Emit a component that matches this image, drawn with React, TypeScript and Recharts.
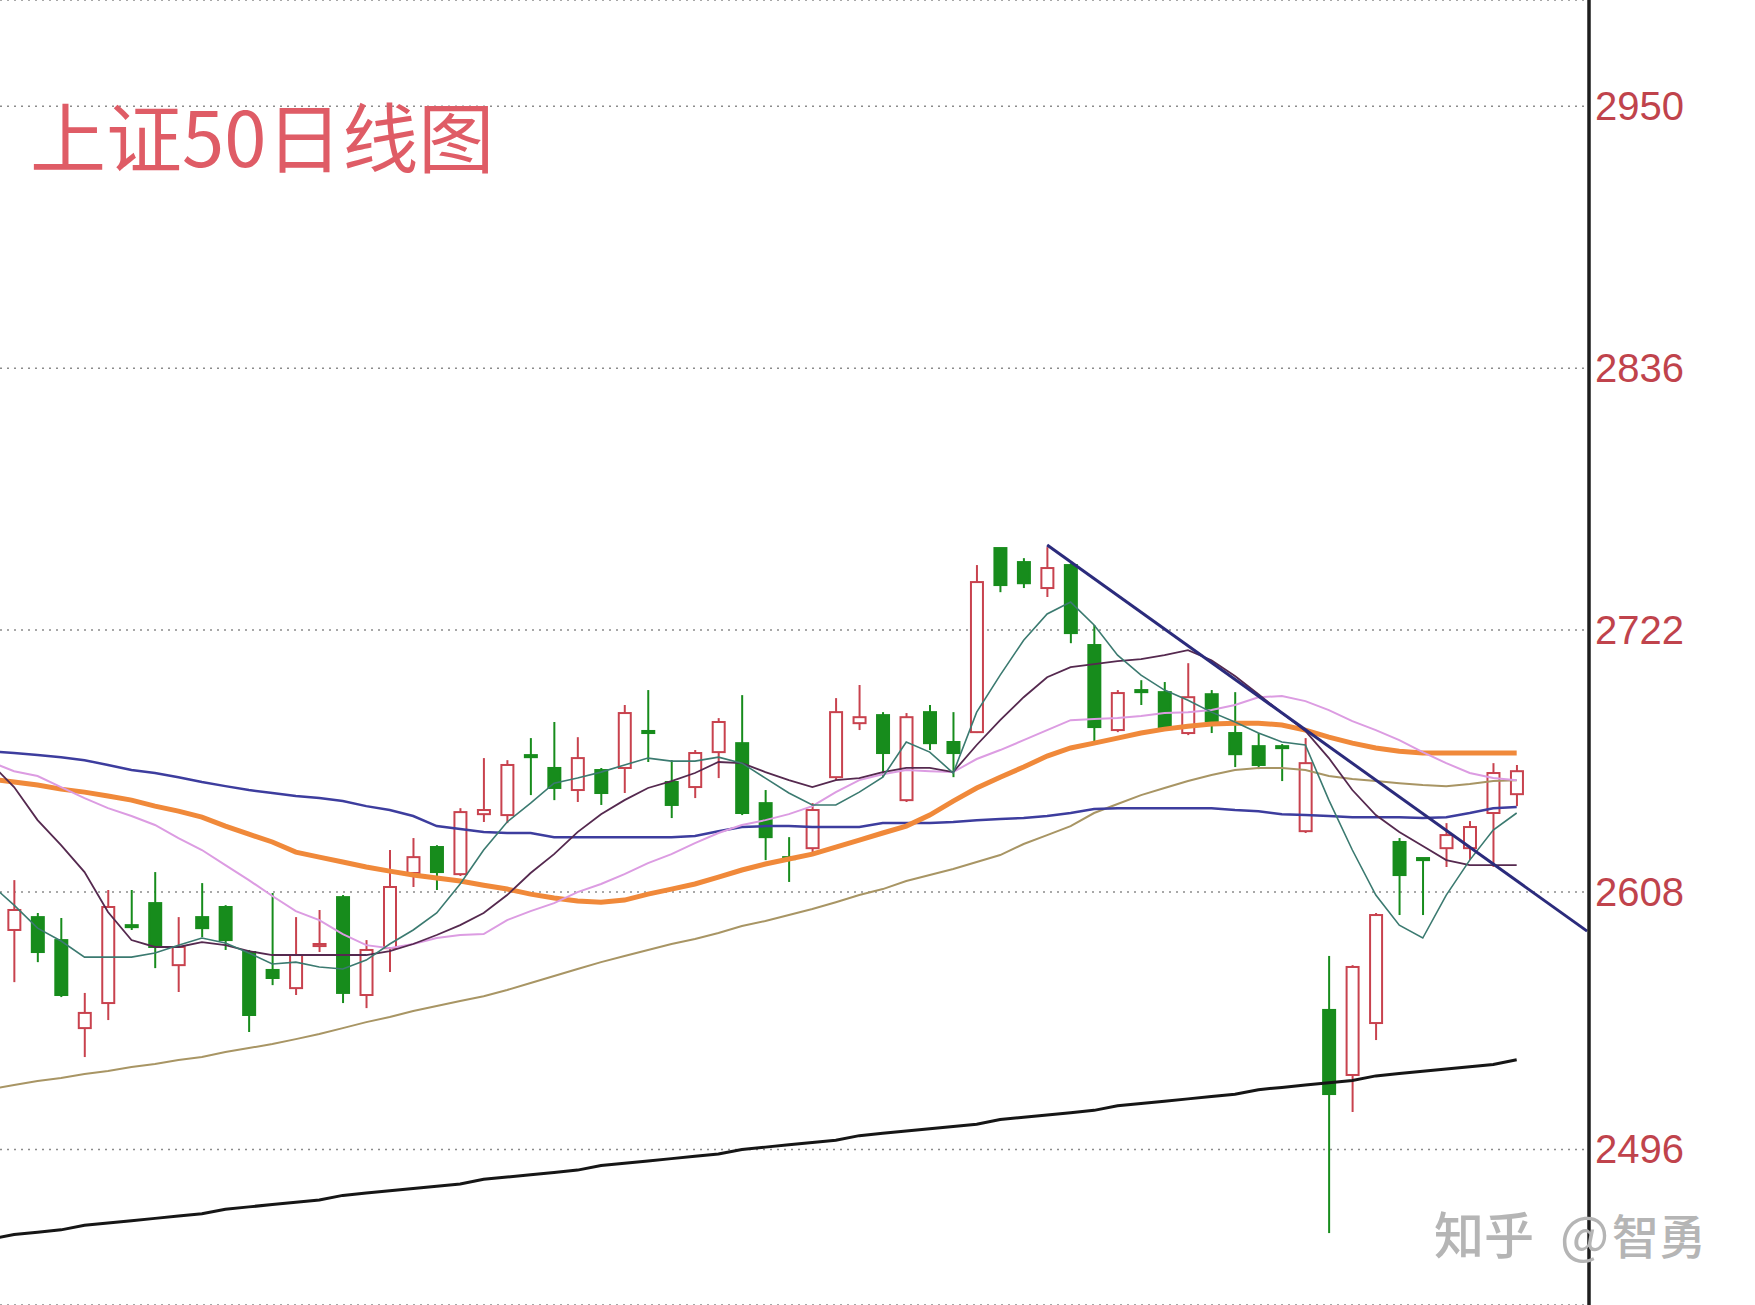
import {
  Bar,
  CartesianGrid,
  ComposedChart,
  Line,
  ReferenceLine,
  XAxis,
  YAxis,
} from "recharts";

// price ticks on the right-hand axis
const PRICE_TICKS = [2496, 2608, 2722, 2836, 2950];

// daily candles (oldest -> newest);
// the first day sits just off the left edge and is mostly clipped
const OPEN = [
  2579.7,
  2591.5, 2597.1, 2587.1, 2548.8, 2559.7, 2593.6, 2603.2, 2576.2, 2597.1, 2601.5,
  2581.9, 2574.1, 2566.2, 2584.5, 2605.8, 2563.2, 2583.6, 2616.3, 2627.6, 2615.8,
  2641.9, 2641.5, 2667.6, 2662.0, 2652.4, 2661.1, 2662.0, 2678.1, 2655.9, 2653.7,
  2668.9, 2672.8, 2646.7, 2623.2, 2627.1, 2658.0, 2681.5, 2685.0, 2648.0, 2686.3,
  2673.3, 2677.6, 2757.7, 2751.6, 2740.3, 2750.3, 2715.5, 2678.5, 2695.9, 2695.0,
  2677.2, 2694.1, 2677.2, 2671.5, 2671.5, 2634.5, 2556.7, 2528.4, 2551.0, 2629.8,
  2622.8, 2627.1, 2627.1, 2642.4, 2650.6,
];
const CLOSE = [
  2607.6,
  2600.2, 2581.9, 2563.2, 2555.4, 2601.5, 2592.8, 2584.1, 2584.1, 2592.3, 2587.1,
  2554.5, 2570.6, 2580.6, 2585.4, 2564.1, 2582.8, 2610.2, 2623.2, 2616.7, 2642.8,
  2643.7, 2663.3, 2666.7, 2653.3, 2666.3, 2651.1, 2685.9, 2677.2, 2645.9, 2668.5,
  2682.0, 2642.4, 2631.9, 2622.4, 2643.7, 2686.3, 2684.1, 2668.5, 2684.1, 2672.8,
  2668.5, 2742.9, 2741.6, 2742.4, 2749.0, 2720.7, 2679.8, 2694.6, 2695.0, 2679.8,
  2692.8, 2682.4, 2668.0, 2663.3, 2670.7, 2664.1, 2520.1, 2575.4, 2598.0, 2615.4,
  2621.9, 2632.8, 2636.3, 2659.8, 2660.6,
];
const HIGH = [
  2612.0,
  2613.2, 2598.9, 2596.7, 2564.1, 2608.9, 2608.9, 2616.7, 2597.1, 2611.9, 2602.3,
  2582.8, 2607.6, 2597.1, 2600.2, 2606.7, 2587.1, 2626.3, 2631.5, 2628.4, 2644.5,
  2666.3, 2665.4, 2675.0, 2682.0, 2675.4, 2662.0, 2689.4, 2695.9, 2665.4, 2669.8,
  2683.7, 2693.7, 2652.4, 2631.9, 2646.7, 2692.4, 2698.1, 2686.3, 2685.9, 2689.4,
  2686.3, 2750.3, 2757.7, 2753.3, 2758.1, 2751.1, 2724.2, 2695.9, 2700.2, 2699.4,
  2707.6, 2695.9, 2695.0, 2677.2, 2672.4, 2675.0, 2580.2, 2576.2, 2598.9, 2631.5,
  2622.8, 2638.0, 2638.9, 2664.1, 2663.3,
];
const LOW = [
  2575.0,
  2568.8, 2577.5, 2562.3, 2536.2, 2552.3, 2591.5, 2574.9, 2564.5, 2588.4, 2582.8,
  2547.1, 2567.5, 2563.2, 2581.9, 2559.7, 2557.5, 2573.2, 2610.2, 2608.9, 2615.0,
  2638.5, 2638.0, 2650.2, 2648.0, 2647.2, 2645.9, 2651.1, 2664.6, 2640.2, 2648.9,
  2657.6, 2641.5, 2621.9, 2612.4, 2624.1, 2656.7, 2678.5, 2658.0, 2647.2, 2669.8,
  2658.0, 2677.2, 2738.5, 2740.3, 2736.4, 2716.3, 2673.3, 2677.6, 2689.4, 2678.5,
  2676.3, 2677.2, 2662.4, 2661.5, 2656.3, 2633.7, 2459.6, 2512.3, 2543.6, 2598.0,
  2598.0, 2618.9, 2621.9, 2618.9, 2645.4,
];

// moving averages
const MA5 = [
  2611.5,
  2602.3, 2592.3, 2586.7, 2579.7, 2579.7, 2579.7, 2581.5, 2584.9, 2588.0, 2585.8,
  2581.5, 2576.7, 2577.5, 2575.4, 2574.5, 2578.4, 2585.4, 2591.5, 2598.9, 2611.5,
  2626.3, 2638.5, 2646.7, 2655.4, 2657.6, 2660.2, 2663.3, 2666.3, 2665.0, 2665.0,
  2666.7, 2664.1, 2657.6, 2651.1, 2645.9, 2645.9, 2651.5, 2658.0, 2673.3, 2668.9,
  2659.8, 2686.3, 2702.4, 2717.6, 2729.0, 2734.2, 2724.2, 2711.1, 2702.4, 2695.9,
  2691.5, 2686.3, 2682.0, 2677.2, 2673.3, 2672.0, 2648.0, 2626.3, 2606.7, 2593.6,
  2588.0, 2606.7, 2621.9, 2635.0, 2642.4,
];
const MA10 = [
  2664.1,
  2653.7, 2639.3, 2628.4, 2616.7, 2599.3, 2587.1, 2584.1, 2584.1, 2586.2, 2584.9,
  2582.3, 2580.6, 2580.6, 2580.6, 2580.6, 2580.6, 2582.3, 2585.4, 2589.3, 2593.6,
  2598.9, 2606.7, 2616.3, 2624.5, 2634.1, 2641.9, 2648.0, 2653.3, 2656.3, 2659.8,
  2664.6, 2664.1, 2660.2, 2656.7, 2653.7, 2656.7, 2657.6, 2660.2, 2662.0, 2662.0,
  2660.2, 2672.0, 2682.8, 2692.8, 2701.5, 2705.9, 2707.2, 2708.5, 2709.4, 2711.1,
  2713.3, 2708.9, 2702.0, 2694.1, 2685.9, 2678.1, 2666.3, 2652.4, 2641.5, 2634.1,
  2628.0, 2621.9, 2619.7, 2619.7, 2619.7,
];
const MA20 = [
  2664.6,
  2660.6, 2658.5, 2653.7, 2648.9, 2644.5, 2641.1, 2637.2, 2631.5, 2626.3, 2619.7,
  2613.2, 2606.3, 2599.7, 2595.8, 2589.7, 2584.9, 2583.6, 2585.4, 2588.0, 2589.3,
  2589.7, 2595.8, 2599.7, 2603.2, 2608.0, 2611.5, 2615.8, 2620.6, 2624.5, 2629.3,
  2633.7, 2637.2, 2639.3, 2641.9, 2645.4, 2651.5, 2656.7, 2659.3, 2661.1, 2660.6,
  2660.2, 2665.9, 2669.8, 2674.1, 2678.5, 2682.8, 2683.3, 2683.7, 2684.6, 2685.9,
  2686.3, 2687.2, 2689.4, 2692.8, 2693.3, 2691.1, 2687.2, 2682.4, 2678.5, 2674.1,
  2668.9, 2664.1, 2659.8, 2657.6, 2656.7,
];
const MA30 = [
  2657.2,
  2655.9, 2654.6, 2652.8, 2651.5, 2649.8, 2648.0, 2645.4, 2643.2, 2640.6, 2636.7,
  2633.2, 2629.8, 2625.4, 2623.2, 2621.1, 2618.9, 2617.1, 2615.4, 2614.1, 2612.8,
  2611.0, 2609.3, 2607.1, 2605.4, 2604.1, 2603.6, 2604.5, 2607.1, 2609.3, 2611.5,
  2614.5, 2617.6, 2620.2, 2622.4, 2624.5, 2627.6, 2630.6, 2633.7, 2636.7, 2641.5,
  2647.6, 2653.3, 2658.0, 2662.4, 2667.2, 2670.7, 2672.8, 2675.0, 2677.2, 2678.9,
  2680.2, 2681.1, 2681.5, 2681.5, 2680.7, 2678.5, 2675.4, 2672.8, 2670.7, 2669.3,
  2668.5, 2668.5, 2668.5, 2668.5, 2668.5,
];
const MA60 = [
  2669.3,
  2668.5, 2667.6, 2666.7, 2665.4, 2663.3, 2661.1, 2659.8, 2658.0, 2655.9, 2654.1,
  2652.4, 2651.1, 2649.8, 2648.9, 2647.6, 2645.4, 2643.7, 2641.1, 2636.7, 2635.4,
  2634.1, 2633.7, 2633.7, 2631.9, 2631.9, 2631.9, 2631.9, 2631.9, 2631.9, 2632.4,
  2634.5, 2636.3, 2636.7, 2636.7, 2636.3, 2636.3, 2636.3, 2638.0, 2638.0, 2638.0,
  2638.5, 2639.3, 2639.8, 2640.2, 2641.1, 2642.4, 2644.1, 2644.5, 2644.5, 2644.5,
  2644.5, 2644.5, 2643.7, 2643.2, 2641.9, 2641.5, 2641.1, 2640.6, 2640.6, 2640.6,
  2640.2, 2640.6, 2642.4, 2644.5, 2645.0,
];
const MA120 = [
  2522.3,
  2524.0, 2525.8, 2527.1, 2528.8, 2530.1, 2531.9, 2533.2, 2534.9, 2536.2, 2538.4,
  2540.1, 2541.9, 2544.0, 2546.2, 2548.8, 2551.4, 2553.6, 2556.2, 2558.4, 2560.6,
  2562.7, 2565.4, 2568.4, 2571.5, 2574.5, 2577.5, 2580.2, 2582.8, 2585.4, 2587.6,
  2590.2, 2593.2, 2595.4, 2598.0, 2600.6, 2603.6, 2606.7, 2609.3, 2612.8, 2615.4,
  2618.0, 2621.1, 2624.1, 2628.9, 2632.8, 2636.7, 2642.4, 2646.3, 2650.2, 2653.3,
  2656.3, 2658.9, 2661.1, 2662.0, 2662.0, 2661.1, 2658.5, 2657.2, 2656.3, 2655.4,
  2654.6, 2654.1, 2655.0, 2656.3, 2656.7,
];
const MA250 = [
  2457,
  2459, 2460, 2461, 2463, 2464, 2465, 2466, 2467, 2468, 2470,
  2471, 2472, 2473, 2474, 2476, 2477, 2478, 2479, 2480, 2481,
  2483, 2484, 2485, 2486, 2487, 2489, 2490, 2491, 2492, 2493,
  2494, 2496, 2497, 2498, 2499, 2500, 2502, 2503, 2504, 2505,
  2506, 2507, 2509, 2510, 2511, 2512, 2513, 2515, 2516, 2517,
  2518, 2519, 2520, 2522, 2523, 2524, 2525, 2526, 2528, 2529,
  2530, 2531, 2532, 2533, 2535,
];

// hand-drawn downtrend line: from the peak candle to the price axis
const TREND = [
  { i: 44, v: 2759 },
  { i: 67, v: 2591 },
];

const UP = "#c8424e";
const DOWN = "#178c1c";

const rows = OPEN.map((open, k) => ({
  i: k - 1,
  open,
  close: CLOSE[k],
  high: HIGH[k],
  low: LOW[k],
  ma5: MA5[k],
  ma10: MA10[k],
  ma20: MA20[k],
  ma30: MA30[k],
  ma60: MA60[k],
  ma120: MA120[k],
  ma250: MA250[k],
}));

function Candle(props: any) {
  const { x, y, width, height, payload } = props;
  if (!payload) return null;
  const { open, close, high, low } = payload;
  const top = Math.min(y, y + height);
  const h = Math.abs(height);
  const k = high > low ? h / (high - low) : 0;
  const at = (v: number) => top + (high - v) * k;
  const cx = x + width / 2;
  const up = close >= open;
  const color = up ? UP : DOWN;
  const bTop = at(Math.max(open, close));
  const bBot = at(Math.min(open, close));
  return (
    <g>
      <line x1={cx} x2={cx} y1={at(high)} y2={bTop} stroke={color} strokeWidth={2} />
      <line x1={cx} x2={cx} y1={bBot} y2={at(low)} stroke={color} strokeWidth={2} />
      <rect
        x={x + 1}
        y={bTop}
        width={width - 2}
        height={Math.max(bBot - bTop, 2)}
        fill={up ? "#fff" : DOWN}
        stroke={color}
        strokeWidth={2}
      />
    </g>
  );
}

function PriceTick(props: any) {
  const { x, y, payload } = props;
  return (
    <text
      x={x}
      y={y}
      dy={14}
      fill="#c0434c"
      fontSize={40}
      fontFamily="'Liberation Sans', Arial, sans-serif"
      textAnchor="start"
    >
      {payload.value}
    </text>
  );
}

export default function App() {
  return (
    <div
      style={{
        position: "absolute",
        left: 0,
        top: 0,
        width: 1755,
        height: 1305,
        background: "#fff",
        overflow: "hidden",
      }}
    >
      <ComposedChart
        width={1755}
        height={1305}
        data={rows}
        margin={{ top: 0, right: 0, bottom: 0, left: 0 }}
      >
        <CartesianGrid
          vertical={false}
          stroke="#8c8c8c"
          strokeWidth={1.5}
          strokeDasharray="2 5"
        />
        <XAxis
          type="number"
          dataKey="i"
          domain={[-0.6, 67.08]}
          allowDataOverflow
          hide
        />
        <YAxis
          orientation="right"
          width={166}
          domain={[2428.3, 2996.2]}
          ticks={PRICE_TICKS}
          interval={0}
          allowDataOverflow
          axisLine={{ stroke: "#1e1e1e", strokeWidth: 3.5 }}
          tickLine={false}
          tickSize={6}
          tickMargin={0}
          tick={(p: any) => <PriceTick {...p} />}
        />
        <Bar
          dataKey={(d: any) => [d.low, d.high]}
          barSize={14}
          shape={(p: any) => <Candle {...p} />}
          isAnimationActive={false}
        />
        <Line dataKey="ma250" stroke="#161616" strokeWidth={3} dot={false} activeDot={false} isAnimationActive={false} />
        <Line dataKey="ma120" stroke="#a89564" strokeWidth={2} dot={false} activeDot={false} isAnimationActive={false} />
        <Line dataKey="ma60" stroke="#3d3d9e" strokeWidth={2.5} dot={false} activeDot={false} isAnimationActive={false} />
        <Line dataKey="ma30" stroke="#f0893a" strokeWidth={5} dot={false} activeDot={false} isAnimationActive={false} />
        <Line dataKey="ma20" stroke="#dc9ce2" strokeWidth={2} dot={false} activeDot={false} isAnimationActive={false} />
        <Line dataKey="ma10" stroke="#55294f" strokeWidth={1.8} dot={false} activeDot={false} isAnimationActive={false} />
        <Line dataKey="ma5" stroke="#3b7a70" strokeWidth={1.6} dot={false} activeDot={false} isAnimationActive={false} />
        <ReferenceLine
          segment={[
            { x: TREND[0].i, y: TREND[0].v },
            { x: TREND[1].i, y: TREND[1].v },
          ]}
          stroke="#2b2b7c"
          strokeWidth={3}
          ifOverflow="visible"
        />
      </ComposedChart>
      <svg
        width={1755}
        height={1305}
        style={{ position: "absolute", left: 0, top: 0, pointerEvents: "none" }}
      >
        <text
          x={30}
          y={167}
          fill="#df5c66"
          fontSize={76}
          fontFamily="'Noto Sans CJK SC', sans-serif"
        >
          上证50日线图
        </text>
        <text x={1434} y={1254} fill="#b5b5b5" fontSize={50} fontWeight={500} fontFamily="'Noto Sans CJK SC', sans-serif">
          知乎
        </text>
        <text x={1560} y={1254} fill="#b5b5b5" fontSize={52} fontFamily="'Noto Sans CJK SC', sans-serif">
          @
        </text>
        <text x={1612} y={1254} fill="#b5b5b5" fontSize={47} fontWeight={500} fontFamily="'Noto Sans CJK SC', sans-serif">
          智勇
        </text>
      </svg>
    </div>
  );
}
